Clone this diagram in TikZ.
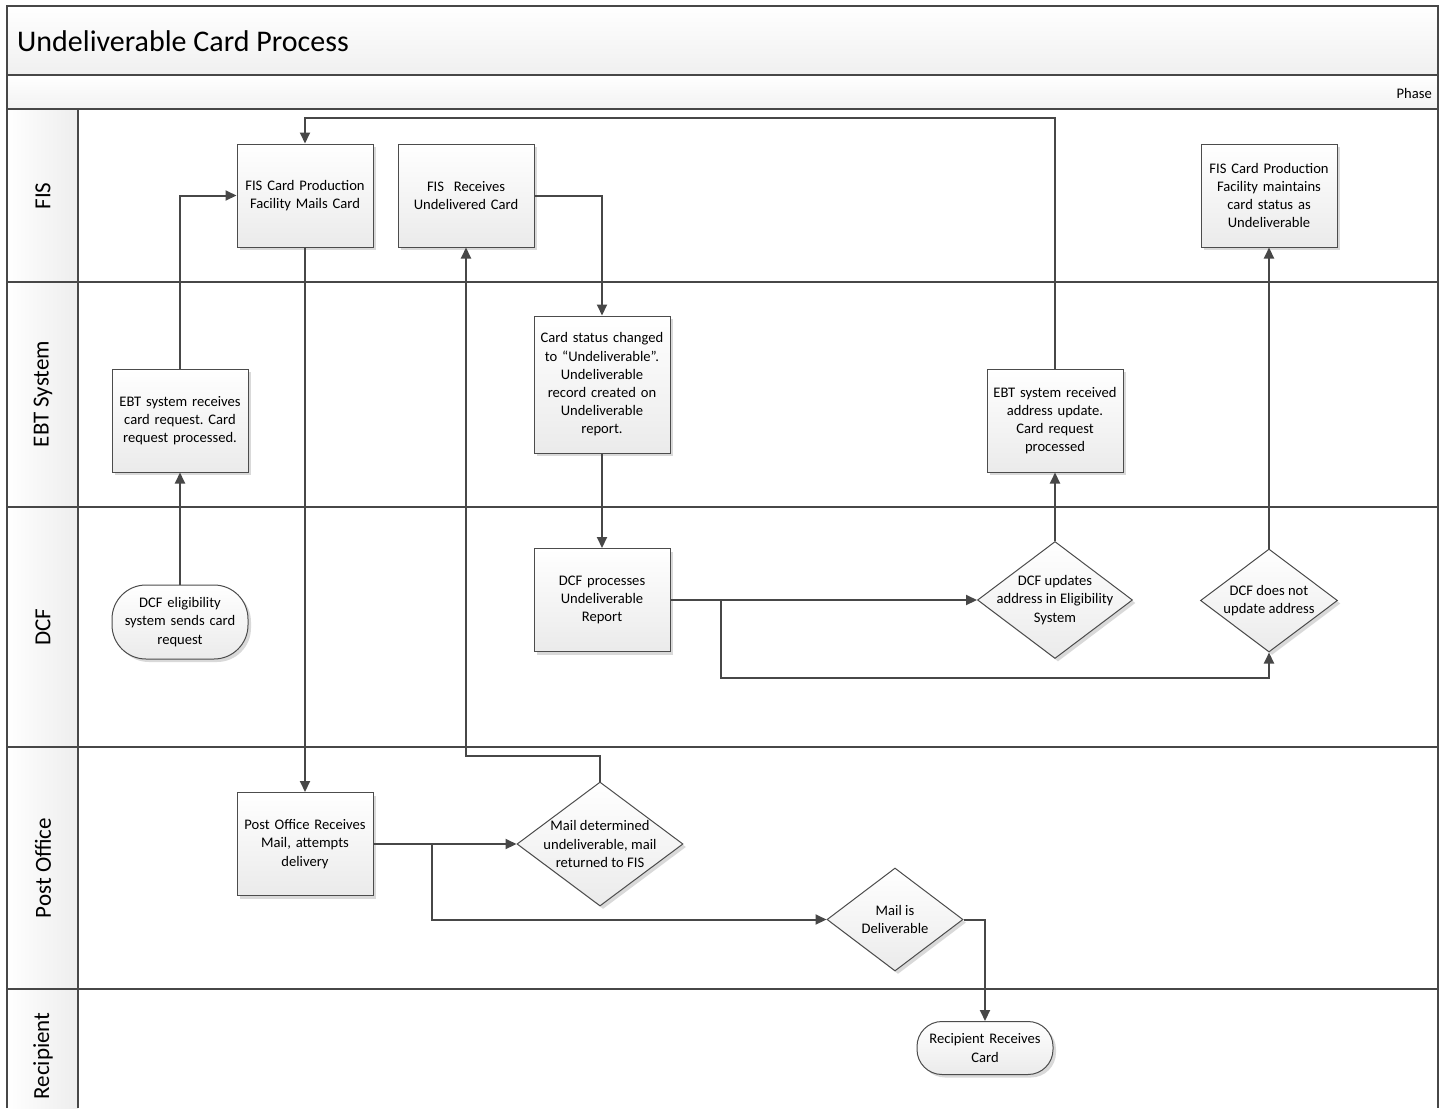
\documentclass[tikz,border=0pt]{standalone}
\usepackage{fontspec}
\setmainfont{Carlito}
\usetikzlibrary{arrows.meta,shapes.geometric,shadows}
\newcommand\bxf{\fontsize{14.6}{18.2}\selectfont}
\frenchspacing
\begin{document}
\frenchspacing
\begin{tikzpicture}[x=1pt,y=-1pt,
  frame/.style={draw=black!72, line width=1.3pt},
  conn/.style={draw=black!72, line width=2pt, -{Triangle[length=11pt,width=10pt]}},
  shad/.style={drop shadow={shadow xshift=3pt, shadow yshift=-3pt, fill=black!15, opacity=1}},
  proc/.style={draw=black!70, line width=1pt, top color=white, bottom color=black!8,
    minimum width=136pt, minimum height=103pt, text width=132pt, align=center,
    inner sep=0pt, font=\bxf, shad},
  term/.style={draw=black!70, line width=1pt, top color=white, bottom color=black!8,
    minimum width=136pt, text width=132pt, align=center, inner sep=0pt, font=\bxf, shad},
  dia/.style={diamond, draw=black!70, line width=1pt, top color=white, bottom color=black!8,
    inner sep=0pt, shad},
  dtext/.style={align=center, inner sep=0pt, font=\bxf},
  lane/.style={rotate=90, font=\fontsize{23}{26}\selectfont, inner sep=0pt}
]
\useasboundingbox (0,0) rectangle (1445,1108);
\fill[white] (0,0) rectangle (1445,1108);
% title and phase bands
\shade[top color=white, bottom color=black!6] (7,6) rectangle (1438,75);
\shade[top color=white, bottom color=black!5] (7,75) rectangle (1438,109);
\shade[left color=white, right color=black!7] (7,109) rectangle (78,1108);
\node[anchor=west, font=\fontsize{30}{34}\selectfont, inner sep=0pt] (title) at (17,41) {Undeliverable Card Process};
\node[anchor=east, font=\fontsize{14.6}{17}\selectfont, inner sep=0pt] (phase) at (1432,93) {Phase};
% frame and lane lines
\draw[frame] (7,1108) -- (7,6) -- (1438,6) -- (1438,1108);
\draw[frame] (7,75) -- (1438,75);
\draw[frame] (7,109) -- (1438,109);
\draw[frame] (7,282) -- (1438,282);
\draw[frame] (7,507) -- (1438,507);
\draw[frame] (7,747) -- (1438,747);
\draw[frame] (7,989) -- (1438,989);
\draw[frame] (78,109) -- (78,1108);
% lane labels
\node[lane] (lfis) at (43,196) {FIS};
\node[lane] (lebt) at (43,394) {EBT System};
\node[lane] (ldcf) at (43,627) {DCF};
\node[lane] (lpo) at (43,868) {Post Office};
\node[lane] (lrec) at (43,1056) {Recipient};
% process boxes
\node[proc] (fis1) at (305,195.5) {FIS Card Production\\Facility Mails Card};
\node[proc] (fisr) at (466,195.5) {FIS\ \ Receives\\Undelivered Card};
\node[proc] (fism) at (1269,195.5) {FIS Card Production\\Facility maintains\\card status as\\Undeliverable};
\node[proc] (ebt1) at (180,420.5) {EBT system receives\\card request. Card\\request processed.};
\node[proc, minimum height=137pt] (cs) at (602,384.5) {Card status changed\\to “Undeliverable”.\\Undeliverable\\record created on\\Undeliverable\\report.};
\node[proc] (ebt2) at (1055,420.5) {EBT system received\\address update.\\Card request\\processed};
\node[proc] (dcfp) at (602,600) {DCF processes\\Undeliverable\\Report};
\node[proc] (po) at (305,844) {Post Office Receives\\Mail, attempts\\delivery};
% terminators
\node[term, minimum height=74pt, rounded corners=34pt] (dcf0) at (180,622) {DCF eligibility\\system sends card\\request};
\node[term, minimum height=53pt, rounded corners=25pt] (rr) at (985,1048) {Recipient Receives\\Card};
% decisions
\node[dia, minimum width=155pt, minimum height=117pt] (du) at (1055,600) {};
\node[dtext] (dut) at (du) {DCF updates\\address in Eligibility\\System};
\node[dia, minimum width=137pt, minimum height=103pt] (dn) at (1269,600.5) {};
\node[dtext] (dnt) at (dn) {DCF does not\\update address};
\node[dia, minimum width=166pt, minimum height=124pt] (md) at (600,844) {};
\node[dtext] (mdt) at (md) {Mail determined\\undeliverable, mail\\returned to FIS};
\node[dia, minimum width=136pt, minimum height=103pt] (mdv) at (895,919.5) {};
\node[dtext] (mdvt) at (mdv) {Mail is\\Deliverable};
% connectors
\draw[conn] (dcf0.north) -- (ebt1.south);
\draw[conn] (ebt1.north) |- (fis1.west);
\draw[conn] (fis1.south) -- (po.north);
\draw[conn] (po.east) -- (md.west);
\draw[conn] (po.east) ++(58,0) |- (mdv.west);
\draw[conn] (md.north) -- ++(0,-26) -| (fisr.south);
\draw[conn] (fisr.east) -| (cs.north);
\draw[conn] (cs.south) -- (dcfp.north);
\draw[conn] (dcfp.east) -- (du.west);
\draw[conn] (dcfp.east) ++(50,0) -- ++(0,78) -| (dn.south);
\draw[conn] (du.north) -- (ebt2.south);
\draw[conn] (ebt2.north) -- ++(0,-251) -| (fis1.north);
\draw[conn] (dn.north) -- (fism.south);
\draw[conn] (mdv.east) -| (rr.north);
\end{tikzpicture}
\end{document}
